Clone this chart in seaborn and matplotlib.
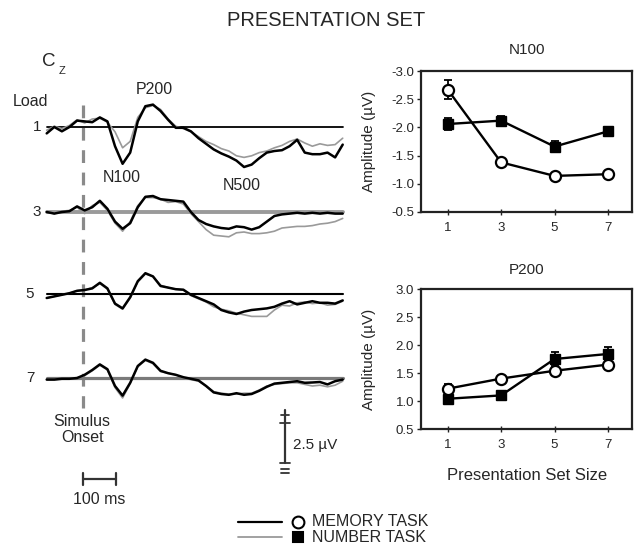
import numpy as np
import pandas as pd
import matplotlib
matplotlib.use("Agg")
import matplotlib.pyplot as plt
import seaborn as sns
from matplotlib.lines import Line2D

sns.set_theme(style="white")
plt.rcParams["font.family"] = ["Liberation Sans", "DejaVu Sans"]
plt.rcParams["axes.unicode_minus"] = False

# ---------------- data ----------------
# ERP waveforms at Cz, sampled every 23 ms from -110 ms to 787 ms (µV, positive up)
time_ms = np.arange(-110, 790, 23)
loads = ["1", "3", "5", "7"]

memory_load1 = [-0.4, 0.0, -0.27, 0.0, 0.4, 0.35, 0.3, 0.6, 0.35, -1.2,
                -2.3, -1.6, 0.35, 1.3, 1.4, 1.0, 0.45, -0.05, -0.05, -0.27,
                -0.7, -1.05, -1.4, -1.65, -1.85, -2.1, -2.5, -2.35, -1.95, -1.6,
                -1.5, -1.45, -1.2, -0.8, -1.6, -1.7, -1.7, -1.6, -1.9, -1.1]
number_load1 = [-0.2, 0.05, -0.1, 0.1, 0.45, 0.25, 0.5, 0.55, 0.3, -0.3,
                -1.3, -0.9, 0.6, 1.2, 1.35, 1.1, 0.5, 0.05, -0.1, -0.3,
                -0.6, -0.9, -1.1, -1.35, -1.5, -1.8, -1.9, -1.8, -1.6, -1.5,
                -1.3, -1.15, -0.9, -0.75, -1.0, -1.2, -1.05, -1.15, -1.1, -0.7]
memory_load3 = [0.0, -0.1, 0.0, 0.05, 0.35, 0.1, 0.3, 0.7, 0.2, -0.6,
                -1.05, -0.7, 0.3, 0.95, 1.0, 0.8, 0.75, 0.7, 0.65, 0.0,
                -0.5, -0.75, -0.9, -1.0, -1.05, -0.9, -0.95, -1.1, -0.95, -0.6,
                -0.25, -0.15, -0.1, -0.05, -0.1, -0.05, -0.1, -0.05, -0.1, -0.1]
number_load3 = [0.0, -0.1, 0.05, 0.1, 0.3, -0.1, 0.4, 0.6, 0.1, -0.7,
                -1.2, -0.6, 0.4, 0.9, 0.9, 0.8, 0.6, 0.65, 0.5, -0.1,
                -0.6, -1.1, -1.45, -1.5, -1.55, -1.3, -1.25, -1.35, -1.35, -1.3,
                -1.2, -1.0, -0.95, -0.9, -0.9, -0.85, -0.75, -0.7, -0.6, -0.4]
memory_load5 = [-0.25, -0.15, -0.05, 0.05, 0.2, 0.25, 0.35, 0.7, 0.35, -0.6,
                -0.9, -0.2, 0.8, 1.3, 1.1, 0.5, 0.4, 0.3, 0.27, -0.05,
                -0.25, -0.45, -0.65, -1.0, -1.15, -1.25, -1.1, -1.0, -0.95, -0.9,
                -0.8, -0.6, -0.45, -0.65, -0.55, -0.45, -0.55, -0.55, -0.6, -0.4]
number_load5 = [-0.25, -0.15, -0.05, 0.05, 0.2, 0.25, 0.4, 0.65, 0.3, -0.65,
                -0.95, -0.25, 0.75, 1.25, 1.1, 0.55, 0.4, 0.3, 0.25, -0.1,
                -0.3, -0.5, -0.8, -0.95, -1.05, -1.2, -1.3, -1.4, -1.4, -1.4,
                -1.0, -0.7, -0.75, -0.55, -0.5, -0.6, -0.55, -0.7, -0.65, -0.45]
memory_load7 = [-0.1, -0.1, -0.05, -0.05, 0.0, 0.2, 0.5, 0.85, 0.55, -0.5,
                -1.1, -0.3, 0.75, 1.15, 0.95, 0.45, 0.3, 0.2, 0.05, -0.05,
                -0.15, -0.5, -0.9, -1.0, -1.05, -0.95, -1.05, -1.0, -0.8, -0.55,
                -0.35, -0.3, -0.25, -0.2, -0.3, -0.28, -0.25, -0.4, -0.2, -0.1]
number_load7 = [-0.1, -0.1, -0.05, -0.05, 0.0, 0.15, 0.45, 0.8, 0.5, -0.6,
                -1.25, -0.35, 0.7, 1.1, 0.9, 0.4, 0.3, 0.2, 0.0, -0.1,
                -0.2, -0.5, -0.85, -0.95, -1.0, -1.0, -0.95, -0.95, -0.75, -0.5,
                -0.4, -0.35, -0.3, -0.3, -0.4, -0.5, -0.45, -0.55, -0.45, -0.2]

# Peak amplitudes by presentation set size (mean ± error)
set_size = [1, 3, 5, 7]
n100_memory = [-2.67, -1.38, -1.14, -1.17]
n100_memory_err = [0.17, 0.05, 0.05, 0.05]
n100_number = [-2.06, -2.12, -1.66, -1.93]
n100_number_err = [0.10, 0.08, 0.10, 0.08]
p200_memory = [1.22, 1.40, 1.54, 1.65]
p200_memory_err = [0.08, 0.04, 0.05, 0.06]
p200_number = [1.04, 1.10, 1.75, 1.84]
p200_number_err = [0.10, 0.08, 0.12, 0.12]

task_labels = ["MEMORY TASK", "NUMBER TASK"]

# ---------------- layout ----------------
W, H = 634, 547
fig = plt.figure(figsize=(W / 100, H / 100), dpi=100)
TXT = "#262626"
GRAY = "#9a9a9a"


def fx(x):
    return x / W


def fy(y):
    return 1 - y / H


def ftext(x, y, s, size=11, **kw):
    kw.setdefault("ha", "center")
    kw.setdefault("va", "center")
    fig.text(fx(x), fy(y), s, fontsize=size, color=TXT, **kw)


ftext(326, 20, "PRESENTATION SET", size=14.5)

# ---------------- left: ERP waveforms ----------------
PX_PER_MS = 0.33
ONSET_X = 83
PX_PER_UV = 16
LEFT_W = 350
axL = fig.add_axes([0, 0, LEFT_W / W, 1])
axL.set_axis_off()


def tx(xpx):
    return (xpx - ONSET_X) / PX_PER_MS


def ty(ypx):
    return -ypx / PX_PER_UV


baseline_px = {"1": 127, "3": 212, "5": 294, "7": 378}
baseline_style = {"1": ("black", 1.3), "3": ("#9a9a9a", 2.8),
                  "5": ("black", 1.5), "7": ("#7a7a7a", 2.3)}
memory_traces = {"1": memory_load1, "3": memory_load3, "5": memory_load5, "7": memory_load7}
number_traces = {"1": number_load1, "3": number_load3, "5": number_load5, "7": number_load7}

for ld in loads:
    off = ty(baseline_px[ld])
    col, lw = baseline_style[ld]
    axL.plot([time_ms[0], time_ms[-1]], [off, off], color=col, lw=lw, zorder=1)
    df_n = pd.DataFrame({"t": time_ms, "v": np.array(number_traces[ld]) + off})
    df_m = pd.DataFrame({"t": time_ms, "v": np.array(memory_traces[ld]) + off})
    sns.lineplot(data=df_n, x="t", y="v", ax=axL, color=GRAY, lw=1.2,
                 estimator=None, sort=False, zorder=2)
    sns.lineplot(data=df_m, x="t", y="v", ax=axL, color="black", lw=1.8,
                 estimator=None, sort=False, zorder=3)
    ftext(37 if ld in ("1", "3") else 30, baseline_px[ld], ld, size=11)

axL.set_xlim(-ONSET_X / PX_PER_MS, (LEFT_W - ONSET_X) / PX_PER_MS)
axL.set_ylim(-H / PX_PER_UV, 0)

# stimulus onset dashed line
axL.plot([0, 0], [ty(105), ty(408)], color="#8a8a8a", lw=2.3,
         linestyle=(0, (4, 3)), zorder=0)

# component / panel labels
ftext(49, 62, "C", size=13.5)
ftext(62, 71, "Z", size=8)
ftext(31, 101, "Load", size=11.5)
ftext(154, 90, "P200", size=11.5)
ftext(122, 178, "N100", size=11.5)
ftext(242, 185, "N500", size=11.5)
ftext(82, 422, "Simulus", size=11.5)
ftext(83, 438, "Onset", size=11.5)

# time scale bar (100 ms)
axL.plot([0, 100], [ty(479), ty(479)], color="#333333", lw=1.6)
for t0 in (0, 100):
    axL.plot([t0, t0], [ty(473), ty(485)], color="#333333", lw=1.6)
ftext(99, 500, "100 ms", size=11.5)

# voltage scale bar (2.5 µV)
vx = tx(285)
axL.plot([vx, vx], [ty(410), ty(463)], color="#333333", lw=1.6)
for ypx, half in ((415, 4), (423, 5), (463, 5), (469, 4), (473, 4)):
    axL.plot([tx(285 - half), tx(285 + half)], [ty(ypx), ty(ypx)],
             color="#333333", lw=1.3)
ftext(293, 445, "2.5 µV", size=11, ha="left")


# ---------------- right: amplitude by set size ----------------
def amp_panel(rect, mem, mem_err, num, num_err, ylim, yticks, title, title_y):
    ax = fig.add_axes(rect)
    ax.set_facecolor("white")
    for sp in ax.spines.values():
        sp.set_color("#222222")
        sp.set_linewidth(1.6)
    ax.errorbar(set_size, num, yerr=num_err, fmt="none", ecolor="black",
                elinewidth=1.3, capsize=3, capthick=1.3, zorder=2)
    ax.errorbar(set_size, mem, yerr=mem_err, fmt="none", ecolor="black",
                elinewidth=1.3, capsize=3, capthick=1.3, zorder=2)
    dfn = pd.DataFrame({"size": set_size, "amp": num})
    dfm = pd.DataFrame({"size": set_size, "amp": mem})
    sns.lineplot(data=dfn, x="size", y="amp", ax=ax, color="black", lw=1.7,
                 marker="s", markersize=7, markerfacecolor="black",
                 markeredgecolor="black", markeredgewidth=1, zorder=3)
    sns.lineplot(data=dfm, x="size", y="amp", ax=ax, color="black", lw=1.7,
                 marker="o", markersize=8, markerfacecolor="white",
                 markeredgecolor="black", markeredgewidth=1.6, zorder=4)
    ax.set_xlim(0, 7.9)
    ax.set_ylim(*ylim)
    ax.set_yticks(yticks)
    ax.set_yticklabels([f"{v:.1f}" for v in yticks])
    ax.set_xticks(set_size)
    ax.set_xticklabels([str(s) for s in set_size])
    ax.tick_params(axis="y", direction="out", length=3, width=1, pad=2,
                   labelsize=9.5, labelcolor=TXT, left=True, color="#222222")
    ax.tick_params(axis="x", direction="inout", length=5, width=1, pad=5,
                   labelsize=9.5, labelcolor=TXT, bottom=True, color="#222222")
    ax.set_xlabel("")
    ax.set_ylabel("Amplitude (µV)", fontsize=11, color=TXT)
    ax.yaxis.set_label_coords(-0.215, 0.5)
    ftext(527, title_y, title, size=11)
    return ax


RX0, RX1 = 421, 632
ax_n100 = amp_panel([fx(RX0), fy(212), (RX1 - RX0) / W, (212 - 71) / H],
                    n100_memory, n100_memory_err, n100_number, n100_number_err,
                    (-0.5, -3.0), [-3.0, -2.5, -2.0, -1.5, -1.0, -0.5], "N100", 50)
ax_p200 = amp_panel([fx(RX0), fy(429), (RX1 - RX0) / W, (429 - 289) / H],
                    p200_memory, p200_memory_err, p200_number, p200_number_err,
                    (0.5, 3.0), [0.5, 1.0, 1.5, 2.0, 2.5, 3.0], "P200", 270)
ftext(527, 475, "Presentation Set Size", size=12)

# ---------------- legend ----------------
leg_rows = [(522, "black", 1.6, "o", "white", 8.5), (537, GRAY, 1.3, "s", "black", 7)]
for (ypx, lcol, llw, mk, mfc, ms), lab in zip(leg_rows, task_labels):
    fig.add_artist(Line2D([fx(238), fx(282)], [fy(ypx), fy(ypx)],
                          transform=fig.transFigure, color=lcol, lw=llw))
    fig.add_artist(Line2D([fx(298)], [fy(ypx)], transform=fig.transFigure,
                          marker=mk, ms=ms, mfc=mfc, mec="black", mew=1.5,
                          linestyle="none"))
    ftext(312, ypx, lab, size=11.5, ha="left")

fig.savefig("out.png", dpi=100, facecolor="white")
